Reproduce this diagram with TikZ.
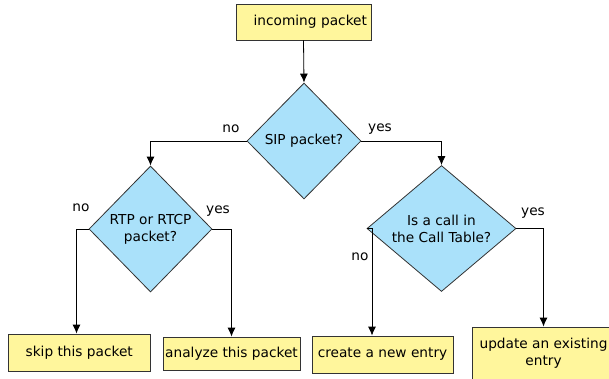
\documentclass[tikz,border=0pt]{standalone}
\usepackage{fontspec}
\setmainfont{DejaVu Sans}
\usepackage{xcolor}
\usepackage{tikz}
\usetikzlibrary{arrows.meta, shapes.geometric, positioning}

\definecolor{boxyellow}{RGB}{255,246,156}
\definecolor{askblue}{RGB}{170,225,250}

\begin{document}
\begin{tikzpicture}[>={Latex[length=9pt,width=8pt]}, x=1pt, y=-1pt,
    line width=0.8pt,
    every node/.style={font=\fontsize{13.7}{17}\selectfont},
    action/.style={draw=black!80, fill=boxyellow, inner sep=0pt, align=center},
    ask/.style={draw=black!80, fill=askblue, shape=diamond, inner sep=0pt, align=center}]

    \clip (0,0) rectangle (609,378);

    % start
    \node[action, minimum width=135, minimum height=36, text width=127, align=right]
        (incoming) at (303.5,22) {incoming packet};

    % decisions
    \node[ask, minimum width=114, minimum height=116] (sip) at (304,141) {SIP packet?};
    \node[ask, minimum width=123, minimum height=126] (rtp) at (150.5,229) {RTP or RTCP\\packet?};
    \node[ask, aspect=1.2, minimum width=149, minimum height=126] (call) at (441.5,228.5)
        {Is a call in\\the Call Table?};

    % results
    \node[action, minimum width=141.5, minimum height=37] (skip) at (79.25,352.5) {skip this packet};
    \node[action, minimum width=137, minimum height=33] (analyze) at (231.5,353.5) {analyze this packet};
    \node[action, minimum width=141, minimum height=37] (create) at (382.5,354.5) {create a new entry};
    \node[action, minimum width=143, minimum height=53] (update) at (543.5,353.5) {update an existing\\entry};

    % arrows
    \draw[->] (incoming.south) -- (sip.north);
    \draw[->] (sip.west) -| (rtp.north);
    \draw[->] (sip.east) -| (call.north);
    \draw[->] (rtp.west) -| ([xshift=-2.75]skip.north);
    \draw[->] (rtp.east) -| (analyze.north);
    \draw[->] (call.west) -| ([xshift=-10.5]create.north);
    \draw[->] (call.east) -| (update.north);

    % branch labels
    \node (sipno) at (231,129) {no};
    \node (sipyes) at (380,129) {yes};
    \node (rtpno) at (81,208) {no};
    \node (rtpyes) at (218,211) {yes};
    \node (callno) at (360,257) {no};
    \node (callyes) at (533,213) {yes};

\end{tikzpicture}
\end{document}
